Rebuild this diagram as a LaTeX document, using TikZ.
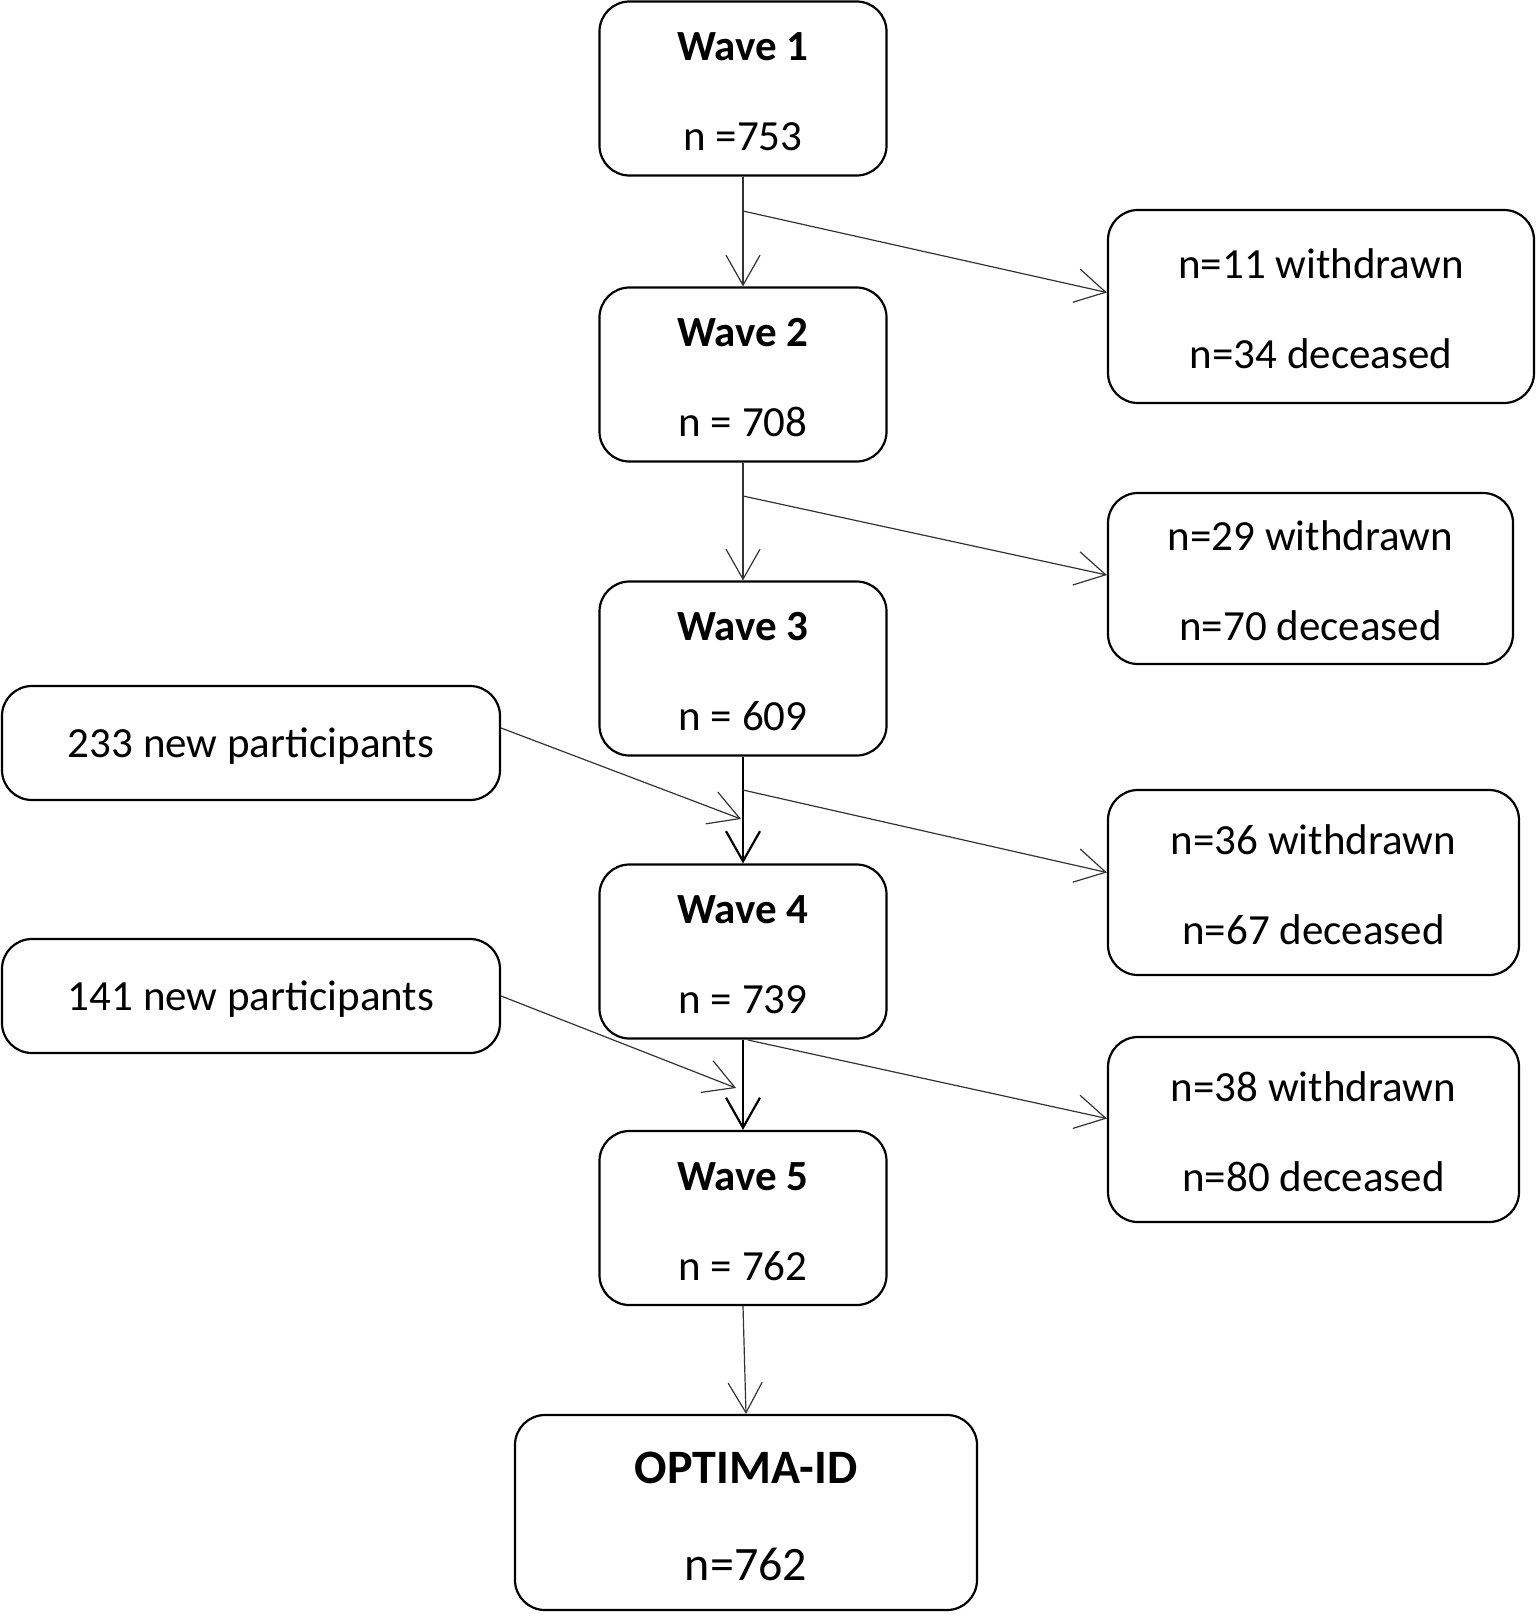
\documentclass[tikz,border=0pt]{standalone}
\usepackage{fontspec}
\setmainfont{Carlito}
\usetikzlibrary{arrows.meta}
\newcommand{\tstrut}{\rule{0pt}{35pt}}
\begin{document}
\begin{tikzpicture}[x=1pt,y=-1pt,
  box/.style={draw, line width=2.2pt, rounded corners=30pt, inner sep=0pt, align=center,
    font=\fontsize{43}{90}\selectfont},
  wave/.style={box, minimum width=287pt, minimum height=174pt},
  thinarrow/.style={draw=black!80, line width=1.2pt, -{Straight Barb[length=30pt,width=34pt,line width=1.2pt]}},
  thickarrow/.style={draw=black, line width=2.6pt, -{Straight Barb[length=30pt,width=34pt,line width=2.2pt]}}]
\useasboundingbox (0,0) rectangle (1535,1619);

% wave column
\node[wave] (w1) at (743,88.5) {\tstrut\textbf{Wave 1}\\n =753};
\node[wave] (w2) at (743,374.5) {\tstrut\textbf{Wave 2}\\n = 708};
\node[wave] (w3) at (743,668.5) {\tstrut\textbf{Wave 3}\\n = 609};
\node[wave] (w4) at (743,951.5) {\tstrut\textbf{Wave 4}\\n = 739};
\node[wave] (w5) at (743,1218) {\tstrut\textbf{Wave 5}\\n = 762};
\node[box, minimum width=462pt, minimum height=195pt, font=\fontsize{48}{97}\selectfont] (opt) at (746,1512.5) {\rule{0pt}{40pt}\textbf{OPTIMA-ID}\\n=762};

% right boxes
\node[box, minimum width=426pt, minimum height=193pt] (r1) at (1321,306.5) {\tstrut n=11 withdrawn\\n=34 deceased};
\node[box, minimum width=405pt, minimum height=171pt] (r2) at (1310.5,578.5) {\tstrut n=29 withdrawn\\n=70 deceased};
\node[box, minimum width=411pt, minimum height=185pt] (r3) at (1313.5,882.5) {\tstrut n=36 withdrawn\\n=67 deceased};
\node[box, minimum width=411pt, minimum height=185pt] (r4) at (1313.5,1129.5) {\tstrut n=38 withdrawn\\n=80 deceased};

% left boxes
\node[box, minimum width=498pt, minimum height=114pt] (l1) at (251,743) {\tstrut 233 new participants};
\node[box, minimum width=498pt, minimum height=114pt] (l2) at (251,996) {\tstrut 141 new participants};

% branch points
\coordinate (b1) at (743,211);
\coordinate (b2) at (743,496);
\coordinate (b3) at (743,790);
\coordinate (b4) at (748,1040);
\coordinate (j1) at (741,819);
\coordinate (j2) at (736,1088);

% vertical arrows
\draw[thinarrow] (w1.south) -- (w2.north);
\draw[thinarrow] (w2.south) -- (w3.north);
\draw[thickarrow] (w3.south) -- (w4.north);
\draw[thickarrow] (w4.south) -- (w5.north);
\draw[thinarrow] (w5.south) -- (opt.north);

% branches to the right
\draw[thinarrow] (b1) -- ([yshift=14pt]r1.west);
\draw[thinarrow] (b2) -- ([yshift=3.5pt]r2.west);
\draw[thinarrow] (b3) -- ([yshift=10pt]r3.west);
\draw[thinarrow] (b4) -- ([yshift=11pt]r4.west);

% new participants
\draw[thinarrow] ([yshift=15pt]l1.east) -- (j1);
\draw[thinarrow] (l2.east) -- (j2);
\end{tikzpicture}
\end{document}
